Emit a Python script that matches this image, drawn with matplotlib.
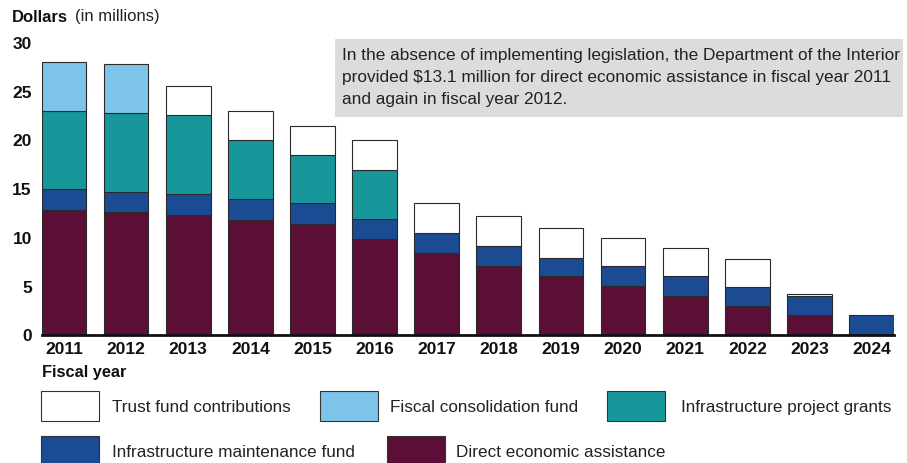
import matplotlib
matplotlib.use("Agg")
import matplotlib.pyplot as plt
from matplotlib.patches import Rectangle
import numpy as np

plt.rcParams['font.family'] = ['Liberation Sans', 'DejaVu Sans']

years = ["2011", "2012", "2013", "2014", "2015", "2016", "2017",
         "2018", "2019", "2020", "2021", "2022", "2023", "2024"]
direct_economic = [12.8, 12.6, 12.3, 11.75, 11.3, 9.8, 8.35, 7.05, 5.95, 4.95, 4.0, 2.95, 1.95, 0.0]
infra_maintenance = [2.1, 2.05, 2.1, 2.15, 2.15, 2.0, 2.05, 2.05, 1.9, 2.05, 1.95, 1.9, 1.95, 1.95]
infra_project = [8.05, 8.05, 8.1, 6.0, 4.95, 5.1, 0, 0, 0, 0, 0, 0, 0, 0]
fiscal_consolidation = [5.05, 5.0, 0, 0, 0, 0, 0, 0, 0, 0, 0, 0, 0, 0]
trust_fund = [0, 0, 2.95, 3.05, 3.0, 3.0, 3.05, 3.05, 3.05, 2.85, 2.9, 2.9, 0.25, 0]

series = [
    ("Direct economic assistance", direct_economic, "#5b0e36"),
    ("Infrastructure maintenance fund", infra_maintenance, "#1b4b93"),
    ("Infrastructure project grants", infra_project, "#17979a"),
    ("Fiscal consolidation fund", fiscal_consolidation, "#7dc4ea"),
    ("Trust fund contributions", trust_fund, "#ffffff"),
]

W, H = 907, 464
fig = plt.figure(figsize=(W / 100, H / 100), dpi=100)
ax = fig.add_axes([41.5 / W, (H - 335.5) / H, (894 - 41.5) / W, (335.5 - 43) / H])

x = np.arange(len(years))
bottom = np.zeros(len(years))
for name, vals, col in series:
    v = np.array(vals, dtype=float)
    mask = v > 0
    ax.bar(x[mask], v[mask], bottom=bottom[mask], width=0.72, color=col,
           edgecolor="#2a2a2a", linewidth=0.8, label=name, zorder=2)
    bottom += v

ax.set_xlim(-0.36, len(years) - 1 + 0.36)
ax.set_ylim(0, 30)
ax.set_yticks([0, 5, 10, 15, 20, 25, 30])
ax.set_xticks(x)
ax.set_xticklabels(years)
for s in ["top", "right", "left"]:
    ax.spines[s].set_visible(False)
ax.spines["bottom"].set_linewidth(2.0)
ax.spines["bottom"].set_color("#111111")
ax.spines["bottom"].set_zorder(3)
ax.tick_params(axis="both", length=0)
ax.tick_params(axis="y", pad=7, labelsize=12.5)
ax.tick_params(axis="x", pad=5, labelsize=12.5)
for lab in ax.get_xticklabels() + ax.get_yticklabels():
    lab.set_fontweight("bold")
    lab.set_color("#111111")

# Axis titles
fig.text(12 / W, 1 - 17 / H, "Dollars", fontsize=12, fontweight="bold", va="center", ha="left", color="#111111")
fig.text(75 / W, 1 - 17 / H, "(in millions)", fontsize=12, va="center", ha="left", color="#222222")
fig.text(42 / W, 1 - 373 / H, "Fiscal year", fontsize=11.8, fontweight="bold", va="center", ha="left", color="#111111")

# Annotation box
fig.add_artist(Rectangle((335 / W, 1 - 118 / H), (903 - 335) / W, (118 - 40) / H,
                         transform=fig.transFigure, facecolor="#dcdcdc", edgecolor="none", zorder=1))
fig.text(342 / W, 1 - 48 / H,
         "In the absence of implementing legislation, the Department of the Interior\n"
         "provided $13.1 million for direct economic assistance in fiscal year 2011\n"
         "and again in fiscal year 2012.",
         fontsize=12.4, va="top", ha="left", color="#222222", linespacing=1.58, zorder=2)

# Legend
legend_items = [
    ("Trust fund contributions", "#ffffff", 41, 392, 112),
    ("Fiscal consolidation fund", "#7dc4ea", 320, 392, 390),
    ("Infrastructure project grants", "#17979a", 607, 392, 681),
    ("Infrastructure maintenance fund", "#1b4b93", 41, 437, 112),
    ("Direct economic assistance", "#5b0e36", 387, 437, 456),
]
for name, col, px, py, tx in legend_items:
    fig.add_artist(Rectangle((px / W, 1 - (py + 30) / H), 58 / W, 30 / H,
                             transform=fig.transFigure, facecolor=col,
                             edgecolor="#333333", linewidth=0.8))
    fig.text(tx / W, 1 - (py + 16) / H, name, fontsize=12.3, va="center", ha="left", color="#222222")

fig.savefig("out.png", dpi=100)
